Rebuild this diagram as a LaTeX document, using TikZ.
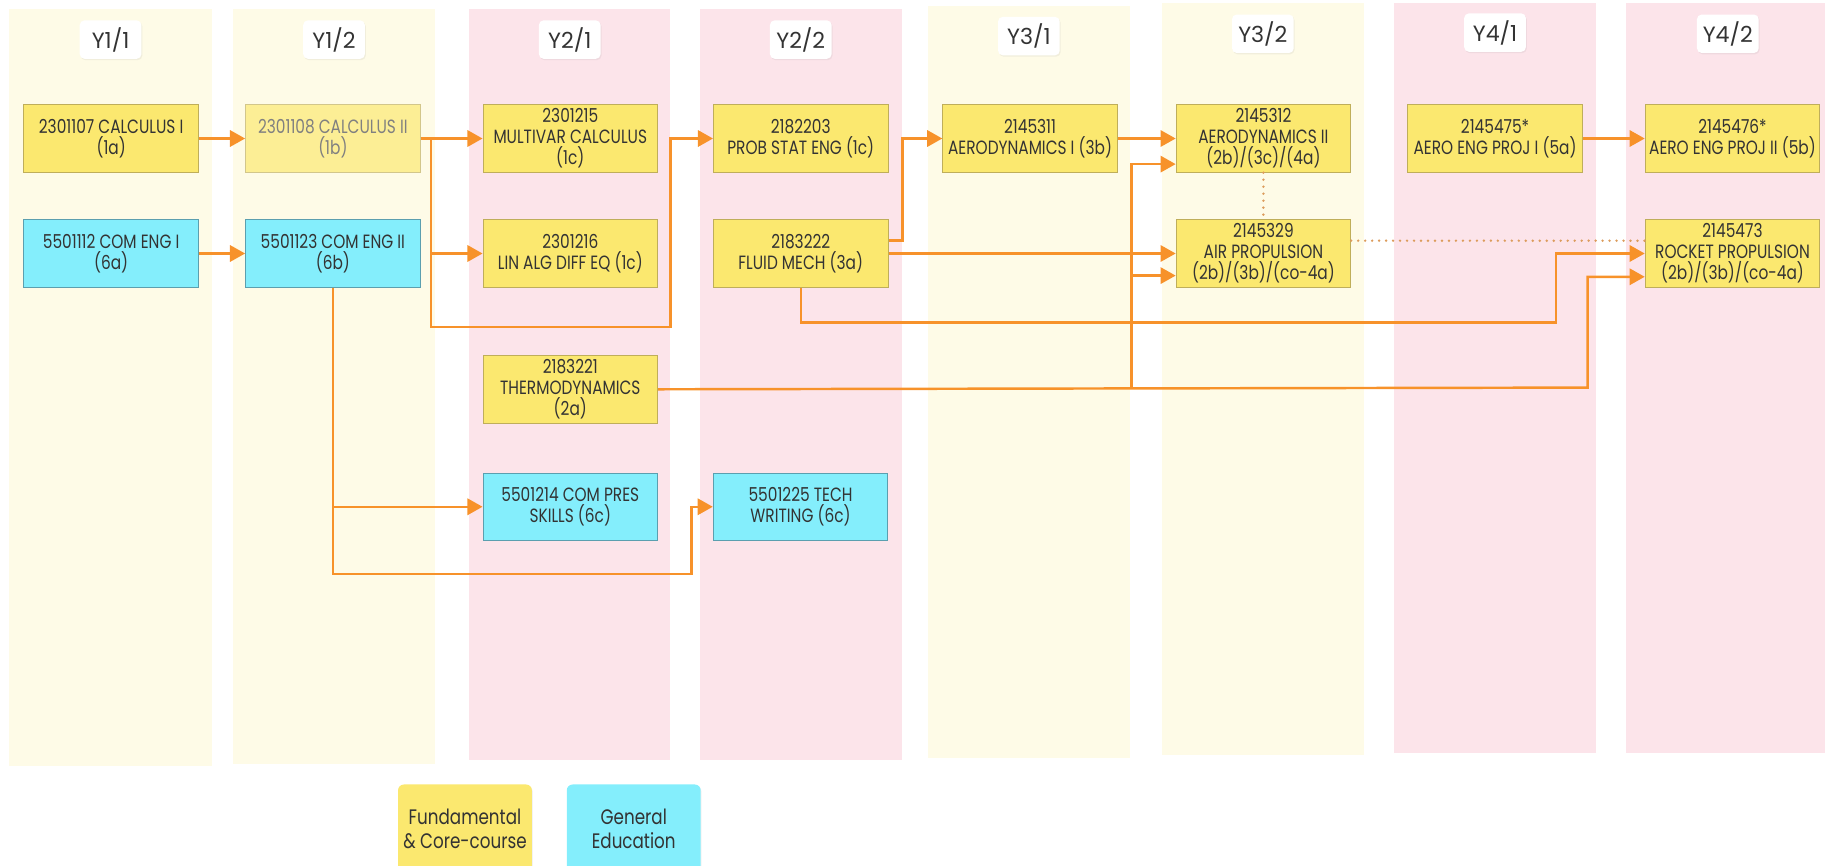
\documentclass[tikz,border=0pt]{standalone}
\usepackage{fontspec}
\setmainfont{Poppins}[FakeStretch=0.80]
\newfontfamily\headfont{Poppins}
\usepackage{tikz}
\usetikzlibrary{arrows.meta, positioning, shadows}
\usepackage{xcolor}

\definecolor{laneyellow}{HTML}{FEFBE7}
\definecolor{lanepink}{HTML}{FCE4EA}
\definecolor{coreyellow}{HTML}{FBE86F}
\definecolor{paleyellow}{HTML}{FCEE95}
\definecolor{coreline}{HTML}{BFAE5A}
\definecolor{genblue}{HTML}{84EEFC}
\definecolor{genline}{HTML}{5B9FAF}
\definecolor{linkorange}{HTML}{F7922A}
\definecolor{dotorange}{HTML}{DC9C5C}
\definecolor{textgrey}{HTML}{333333}

\tikzset{
  course/.style={draw=coreline, fill=coreyellow, line width=0.8pt,
    minimum width=150, minimum height=58, inner sep=0pt, align=center,
    text=textgrey, font=\fontsize{16.5}{18}\selectfont},
  gened/.style={course, draw=genline, fill=genblue},
  sem/.style={fill=white, rounded corners=4pt, minimum width=53,
    minimum height=33, inner sep=0pt, text=textgrey,
    font=\headfont\fontsize{19}{20}\selectfont,
    drop shadow={shadow xshift=0.8pt, shadow yshift=-1.2pt, opacity=0.10}},
  legend/.style={rounded corners=5pt, minimum width=115, minimum height=76,
    inner sep=0pt, align=center, text=textgrey,
    font=\fontsize{18}{21}\selectfont,
    drop shadow={shadow xshift=0.8pt, shadow yshift=-1.2pt, opacity=0.10}},
  link/.style={draw=linkorange, line width=2.1pt,
    -{Triangle[length=13pt,width=14pt]}},
  soft/.style={draw=dotorange, line width=2.3pt, line cap=round,
    dash pattern=on 0pt off 6pt}
}

\begin{document}
\begin{tikzpicture}[x=1pt, y=-1pt]
  \clip (0,0) rectangle (1568,744);
  % semester lanes
  \fill[laneyellow] (8,8) rectangle (182,658);
  \fill[laneyellow] (200,8) rectangle (374,656);
  \fill[lanepink] (403,8) rectangle (576,653);
  \fill[lanepink] (601,8) rectangle (775,653);
  \fill[laneyellow] (797,5) rectangle (971,651);
  \fill[laneyellow] (998,3) rectangle (1172,649);
  \fill[lanepink] (1198,3) rectangle (1371,647);
  \fill[lanepink] (1397,3) rectangle (1575,647);

  \node[sem] (s11) at (95,34) {Y1/1};
  \node[sem] (s12) at (287,34) {Y1/2};
  \node[sem] (s21) at (489.5,34) {Y2/1};
  \node[sem] (s22) at (688,34) {Y2/2};
  \node[sem] (s31) at (884,31) {Y3/1};
  \node[sem] (s32) at (1085,29) {Y3/2};
  \node[sem] (s41) at (1284.5,28) {Y4/1};
  \node[sem] (s42) at (1484.5,29) {Y4/2};

  % courses
  \node[course] (calcI) at (95.5,119) {2301107 CALCULUS I\\(1a)};
  \node[course, fill=paleyellow, draw=coreline!70, text=gray]
    (calcII) at (286,119) {2301108 CALCULUS II\\(1b)};
  \node[course] (multivar) at (490,119) {2301215\\MULTIVAR CALCULUS\\(1c)};
  \node[course] (probstat) at (688,119) {2182203\\PROB STAT ENG (1c)};
  \node[course] (aeroI) at (885,119) {2145311\\AERODYNAMICS I (3b)};
  \node[course] (aeroII) at (1085.5,119) {2145312\\AERODYNAMICS II\\(2b)/(3c)/(4a)};
  \node[course] (projI) at (1284.5,119) {2145475*\\AERO ENG PROJ I (5a)};
  \node[course] (projII) at (1488.5,119) {2145476*\\AERO ENG PROJ II (5b)};

  \node[gened] [below = 40pt of calcI] (comengI) {5501112 COM ENG I\\(6a)};
  \node[gened] [below = 40pt of calcII] (comengII) {5501123 COM ENG II\\(6b)};
  \node[course] [below = 40pt of multivar] (linalg) {2301216\\LIN ALG DIFF EQ (1c)};
  \node[course] [below = 40pt of probstat] (fluid) {2183222\\FLUID MECH (3a)};
  \node[course] [below = 40pt of aeroII] (airprop) {2145329\\AIR PROPULSION\\(2b)/(3b)/(co-4a)};
  \node[course] [below = 40pt of projII] (rocket) {2145473\\ROCKET PROPULSION\\(2b)/(3b)/(co-4a)};
  \node[course] [below = 58pt of linalg] (thermo) {2183221\\THERMODYNAMICS\\(2a)};
  \node[gened] [below = 42pt of thermo] (compres) {5501214 COM PRES\\SKILLS (6c)};
  \node[gened] [right = 47pt of compres] (techwriting) {5501225 TECH\\WRITING (6c)};

  % legend
  \node[legend, fill=coreyellow] (legcore) at (399.5,712) {Fundamental\\\& Core-course};
  \node[legend, fill=genblue] (leggen) at (544.5,712) {General\\Education};

  % prerequisites
  \coordinate (split1) at ([xshift=9pt]calcII.east);
  \coordinate (turn1) at (576,281);
  \coordinate (turn2) at (594,493);
  \coordinate (turn3) at (1337,277);
  \coordinate (turn4) at (1364,333);
  \coordinate (split2) at (972,333);

  \draw[link] (calcI) -- (calcII);
  \draw[link] (calcII) -- (multivar);
  \draw[link] (split1) |- (linalg);
  \draw[link] (split1) |- (turn1) |- (probstat);
  \draw[link] (comengI) -- (comengII);
  \draw[link] (comengII) |- (compres);
  \draw[link] (comengII) |- (turn2) |- (techwriting);
  \draw[link] ([yshift=11pt]fluid.east) -- ++(12,0) |- (aeroI);
  \draw[link] (fluid) -- (airprop);
  \draw[link] (fluid) |- (turn3) |- (rocket);
  \draw[link] (aeroI) -- (aeroII);
  \draw[link] (projI) -- (projII);
  \draw[link] (thermo) -- (turn4) |- ([yshift=-20pt]rocket.west);
  \draw[link] (split2) |- ([yshift=-22pt]aeroII.west);
  \draw[link] (split2) |- ([yshift=-19pt]airprop.west);
  \draw[soft] (aeroII) -- (airprop);
  \draw[soft] ([yshift=11pt]airprop.east) -- ([yshift=11pt]rocket.west);
\end{tikzpicture}
\end{document}
